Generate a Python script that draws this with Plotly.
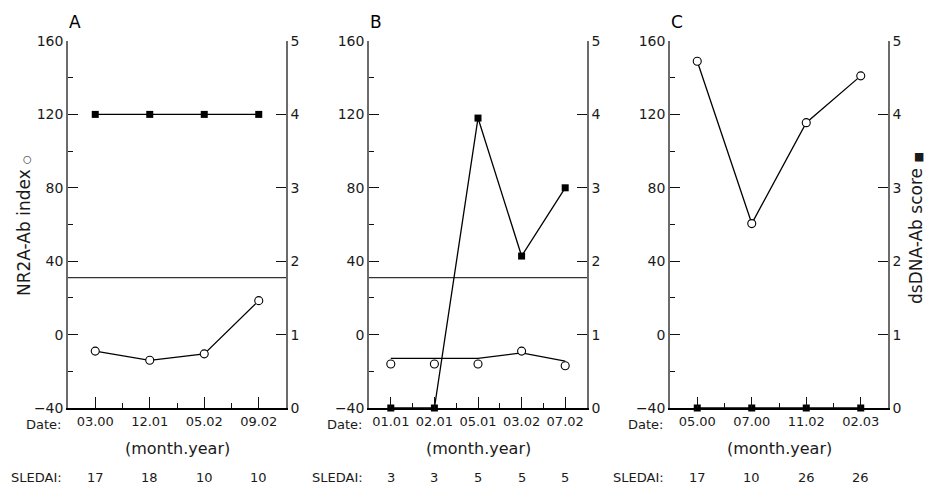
import plotly.graph_objects as go

# ---------------- data ----------------
panel_labels = ["A", "B", "C"]
dates_a = ["03.00", "12.01", "05.02", "09.02"]
dates_b = ["01.01", "02.01", "05.01", "03.02", "07.02"]
dates_c = ["05.00", "07.00", "11.02", "02.03"]

nr2a_a = [-9, -14, -10.5, 18.5]
nr2a_b = [-16, -16, -16, -9, -17]
nr2a_b_line = [-13, -13, -13, -10, -14.5]   # connecting line as printed (slightly offset)
nr2a_c = [149, 60.5, 115.5, 141]

dsdna_a = [4, 4, 4, 4]
dsdna_b = [0, 0, 3.95, 2.07, 3.0]
dsdna_c = [0, 0, 0, 0]

sledai_a = [17, 18, 10, 10]
sledai_b = [3, 3, 5, 5, 5]
sledai_c = [17, 10, 26, 26]

cutoff = 31
cutoff_panels = [True, True, False]

left_ticks = [-40, 0, 40, 80, 120, 160]
right_ticks = [0, 1, 2, 3, 4, 5]

dates = [dates_a, dates_b, dates_c]
nr2a = [nr2a_a, nr2a_b, nr2a_c]
nr2a_line = [nr2a_a, nr2a_b_line, nr2a_c]
dsdna = [dsdna_a, dsdna_b, dsdna_c]
sledai = [sledai_a, sledai_b, sledai_c]

# ---------------- layout geometry ----------------
W, H = 925, 487
FONT = "DejaVu Sans"
TXT = "#1a1a1a"
TICKC = "#111111"
TW = 1.4
panel_px = [(68, 286), (369, 587), (670, 888)]
y_top_px, y_bot_px = 41, 408
ydom = [1 - y_bot_px / H, 1 - y_top_px / H]

fig = go.Figure()
layout = dict(
    width=W, height=H, autosize=False,
    margin=dict(l=0, r=0, t=0, b=0, pad=0, autoexpand=False),
    paper_bgcolor="white", plot_bgcolor="rgba(0,0,0,0)",
    showlegend=False,
    font=dict(family=FONT, color=TXT),
)
annotations = []
AXGREY = "#6b6b6b"

for i in range(3):
    n = len(dates[i])
    xs = list(range(n))
    xname = "x" if i == 0 else f"x{i+1}"
    xkey = "xaxis" if i == 0 else f"xaxis{i+1}"
    yl = 2 * i + 1
    yr = 2 * i + 2
    ylname = "y" if yl == 1 else f"y{yl}"
    ylkey = "yaxis" if yl == 1 else f"yaxis{yl}"
    yrname = f"y{yr}"
    yrkey = f"yaxis{yr}"
    x0, x1 = panel_px[i]
    xdom = [x0 / W, x1 / W]

    layout[xkey] = dict(
        domain=xdom, anchor=ylname, range=[-0.5, n - 0.5], automargin=False,
        tickmode="array", tickvals=xs, ticktext=dates[i],
        ticks="inside", ticklen=11, tickwidth=TW, tickcolor=TICKC,
        minor=dict(tickmode="linear", tick0=0.5, dtick=1, ticks="inside",
                   ticklen=5, tickwidth=TW, tickcolor=TICKC),
        showline=True, linecolor="black", linewidth=2,
        showgrid=False, zeroline=False, fixedrange=True,
        tickfont=dict(family=FONT, size=13, color=TXT),
    )
    layout[ylkey] = dict(
        domain=ydom, anchor=xname, range=[-40, 160], automargin=False,
        tickmode="array", tickvals=left_ticks,
        ticks="inside", ticklen=10, tickwidth=TW, tickcolor=TICKC,
        minor=dict(tickmode="linear", tick0=-20, dtick=40, ticks="inside",
                   ticklen=5, tickwidth=TW, tickcolor=TICKC),
        showline=True, linecolor=AXGREY, linewidth=1.5,
        showgrid=False, zeroline=False, fixedrange=True,
        tickfont=dict(family=FONT, size=14, color=TXT),
    )
    layout[yrkey] = dict(
        domain=ydom, anchor=xname, overlaying=ylname, side="right",
        range=[0, 5], automargin=False, tickmode="array", tickvals=right_ticks,
        ticks="inside", ticklen=10, tickwidth=TW, tickcolor=TICKC,
        showline=True, linecolor=AXGREY, linewidth=1.5,
        showgrid=False, zeroline=False, fixedrange=True,
        tickfont=dict(family=FONT, size=14, color=TXT),
    )

    if cutoff_panels[i]:
        fig.add_trace(go.Scatter(
            x=[-0.5, n - 0.5], y=[cutoff, cutoff], mode="lines",
            line=dict(color="#333", width=1.2), xaxis=xname, yaxis=ylname,
            hoverinfo="skip", cliponaxis=False))

    # NR2A-Ab index: connecting line + open circles
    fig.add_trace(go.Scatter(
        x=xs, y=nr2a_line[i], mode="lines",
        line=dict(color="black", width=1.3),
        xaxis=xname, yaxis=ylname, cliponaxis=False))
    fig.add_trace(go.Scatter(
        x=xs, y=nr2a[i], mode="markers",
        marker=dict(symbol="circle", size=8, color="white",
                    line=dict(color="black", width=1.1)),
        xaxis=xname, yaxis=ylname, cliponaxis=False))

    # dsDNA-Ab score: filled squares
    fig.add_trace(go.Scatter(
        x=xs, y=dsdna[i], mode="lines+markers",
        line=dict(color="black", width=1.3),
        marker=dict(symbol="square", size=7, color="black"),
        xaxis=xname, yaxis=yrname, cliponaxis=False))

    annotations.append(dict(
        text=panel_labels[i], xref="paper", yref="paper",
        x=(x0 + 7) / W, y=1 - 22 / H, showarrow=False,
        font=dict(family=FONT, size=17, color="black"),
        xanchor="center", yanchor="middle"))
    annotations.append(dict(
        text="Date:", xref="paper", yref="paper",
        x=(x0 - 5) / W, y=1 - 424 / H, showarrow=False,
        font=dict(family=FONT, size=13, color=TXT),
        xanchor="right", yanchor="middle"))
    annotations.append(dict(
        text="(month.year)", xref="paper", yref="paper",
        x=(x0 + x1) / 2 / W, y=1 - 448 / H, showarrow=False,
        font=dict(family=FONT, size=16, color=TXT),
        xanchor="center", yanchor="middle"))
    annotations.append(dict(
        text="SLEDAI:", xref="paper", yref="paper",
        x=(x0 - 4) / W, y=1 - 477 / H, showarrow=False,
        font=dict(family=FONT, size=13, color=TXT),
        xanchor="right", yanchor="middle"))
    for xv, s in zip(xs, sledai[i]):
        annotations.append(dict(
            text=str(s), xref=xname, yref="paper",
            x=xv, y=1 - 477 / H, showarrow=False,
            font=dict(family=FONT, size=13, color=TXT),
            xanchor="center", yanchor="middle"))

annotations.append(dict(
    text='NR2A-Ab index <span style="font-size:10px">○</span>',
    xref="paper", yref="paper",
    x=24 / W, y=1 - 226 / H, showarrow=False, textangle=-90,
    font=dict(family=FONT, size=17, color=TXT),
    xanchor="center", yanchor="middle"))
annotations.append(dict(
    text='dsDNA-Ab score <span style="font-size:11px">■</span>',
    xref="paper", yref="paper",
    x=916 / W, y=1 - 228 / H, showarrow=False, textangle=-90,
    font=dict(family=FONT, size=17, color=TXT),
    xanchor="center", yanchor="middle"))

layout["annotations"] = annotations
fig.update_layout(**layout)
fig.write_html("out.html")
